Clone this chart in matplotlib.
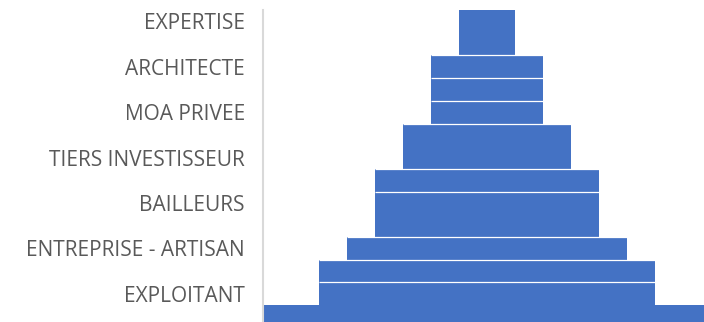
import matplotlib.pyplot as plt

# pyramid rows, top to bottom (only every other row carries a label)
labels = ["EXPERTISE", "ARCHITECTE", "MOA PRIVEE", "TIERS INVESTISSEUR",
          "BAILLEURS", "ENTREPRISE - ARTISAN", "EXPLOITANT"]
widths = [1, 1, 2, 2, 2, 3, 3, 4, 4, 4, 5, 6, 6, 8]
# white separator line on top of the row (as seen in the original)
separator = [0, 0, 1, 1, 1, 1, 0, 1, 1, 0, 1, 1, 1, 0]

bar_color = '#4472C4'
max_w = max(widths)
offsets = [(max_w - w) / 2 for w in widths]
rows = list(range(len(widths)))

plt.rcParams['font.family'] = ['Open Sans', 'DejaVu Sans']

fig = plt.figure(figsize=(7.04, 3.22), dpi=100)
ax = fig.add_axes([263 / 704, 0, 441 / 704, 312 / 322])

ax.barh(rows, widths, left=offsets, height=1.0, color=bar_color,
        linewidth=0, antialiased=False)

# thin white lines between rows
for r in rows:
    if separator[r]:
        ax.hlines(r - 0.5, offsets[r], offsets[r] + widths[r],
                  color='white', linewidth=0.9)

ax.set_xlim(0, 441 / 56)
ax.set_ylim(13.24, -0.5)

ax.set_yticks(rows[::2])
ax.set_yticklabels(labels, fontsize=15, color='#595959')
ax.tick_params(axis='y', length=0, pad=13)
ax.set_xticks([])

for side in ['top', 'right', 'bottom']:
    ax.spines[side].set_visible(False)
ax.spines['left'].set_color('#d9d9d9')
ax.spines['left'].set_linewidth(1.5)

fig.savefig('out.png', dpi=100)
